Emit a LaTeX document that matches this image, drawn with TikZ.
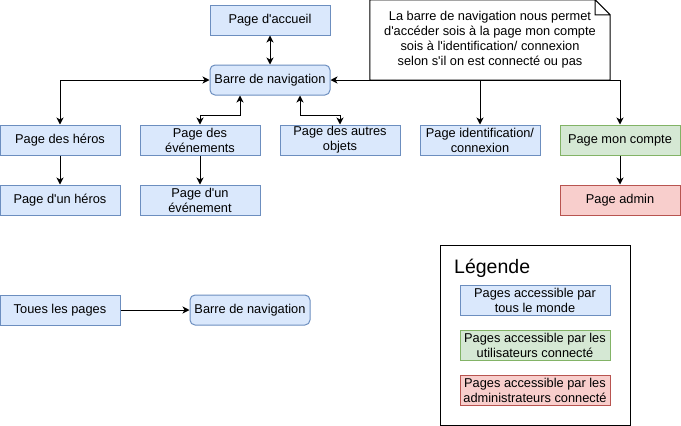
\documentclass[tikz,border=0pt]{standalone}
\usepackage{fontspec}
\setmainfont{Liberation Sans}[Ligatures=TeXOff]
\usepackage{xcolor}
\usetikzlibrary{
		positioning,
		arrows.meta
	}
\definecolor{bleuF}{HTML}{DAE8FC}\definecolor{bleuD}{HTML}{6C8EBF}
\definecolor{vertF}{HTML}{D5E8D4}\definecolor{vertD}{HTML}{82B366}
\definecolor{rougeF}{HTML}{F8CECC}\definecolor{rougeD}{HTML}{B85450}
\tikzset{
		>={Stealth[length=7pt,width=7pt,inset=2pt]},
		page/.style={draw=bleuD, fill=bleuF, line width=1pt, minimum width=120pt, minimum height=30pt, inner sep=0pt, align=center, font=\fontsize{12.8}{15}\selectfont},
		nav/.style={page, rounded corners=5pt},
		membre/.style={page, draw=vertD, fill=vertF},
		admin/.style={page, draw=rougeD, fill=rougeF},
		lien/.style={line width=1pt, <->}
	}

\begin{document}
\begin{tikzpicture}[x=1pt, y=-1pt] % (1 unit = 1 pixel of the drawing, y going down)
		\useasboundingbox (0,0) rectangle (681,426);
		% the pages
		\node[page] (accueil) at (270,20) {Page d'accueil};
		\node[nav] (barre) at (270,80) {Barre de navigation};
		\node[page] (heros) at (60,140) {Page des héros};
		\node[page] (unheros) at (60,200) {Page d'un héros};
		\node[page] (evts) at (200,140) {Page des\\événements};
		\node[page] (unevt) at (200,200) {Page d'un\\événement};
		\node[page] (objets) at (340,140) {Page des autres\\objets};
		\node[page] (ident) at (480,140) {Page identification/\\connexion};
		\node[membre] (compte) at (620,140) {Page mon compte};
		\node[admin] (padmin) at (620,200) {Page admin};
		% the links
		\draw[lien] (accueil) -- (barre);
		\draw[lien] (barre.west) -| (heros.north);
		\draw[lien] ([xshift=-30pt]barre.south) -- ++(0,20) -| (evts.north);
		\draw[lien] ([xshift=30pt]barre.south) -- ++(0,20) -| (objets.north);
		\draw[lien] (compte.north) |- (barre.east);
		\draw[lien,<-] (ident.north) -- (ident.north |- barre.east);
		\draw[lien,->] (heros) -- (unheros);
		\draw[lien,->] (evts) -- (unevt);
		\draw[lien,->] (compte) -- (padmin);
		% the note
		\node[minimum width=240pt, minimum height=80pt, align=center, font=\fontsize{12.8}{15}\selectfont] (note) at (490,40) {La barre de navigation nous permet\\d'accéder sois à la page mon compte\\sois à l'identification/ connexion\\selon s'il on est connecté ou pas};
		\draw[line width=1pt] (note.south west) -- (note.north west) -- ([xshift=-15pt]note.north east) -- ([yshift=-15pt]note.north east) -- (note.south east) -- cycle
		  ([xshift=-15pt]note.north east) -- ([xshift=-15pt,yshift=-15pt]note.north east) -- ([yshift=-15pt]note.north east);
		% every page has the bar
		\node[page] (toutes) at (60,310) {Toues les pages};
		\node[nav] (barre2) at (250,310) {Barre de navigation};
		\draw[lien,->] (toutes) -- (barre2);
		% the legend
		\node[draw, line width=1pt, minimum width=190pt, minimum height=180pt] (legende) at (535,335) {};
		\node[anchor=base west, inner sep=0pt, font=\fontsize{19.5}{21}\selectfont] (titre) at (454,273) {Légende};
		\node[page, minimum width=150pt] (lbleu) at (535,300) {Pages accessible par\\tous le monde};
		\node[membre, minimum width=150pt] (lvert) at (535,345) {Pages accessible par les\\utilisateurs connecté};
		\node[admin, minimum width=150pt] (lrouge) at (535,390) {Pages accessible par les\\administrateurs connecté};
	\end{tikzpicture}
\end{document}
